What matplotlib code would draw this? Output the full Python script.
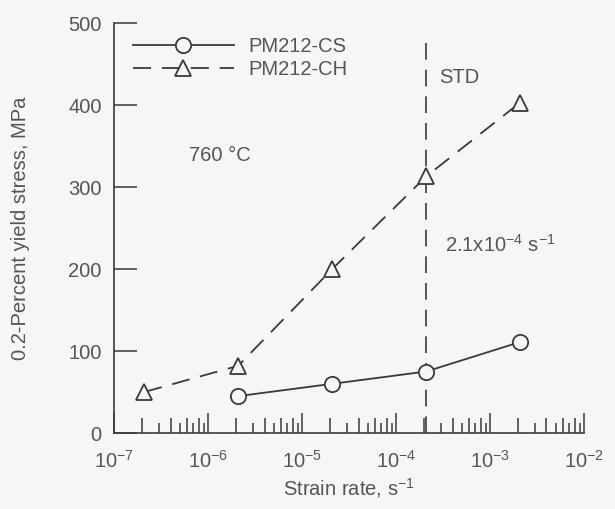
import matplotlib
matplotlib.use("Agg")
import matplotlib.pyplot as plt

# strain rate, 1/s and 0.2% yield stress, MPa
rate_cs = [2.1e-6, 2.1e-5, 2.1e-4, 2.1e-3]
stress_cs = [45, 60, 75, 111]
rate_ch = [2.1e-7, 2.1e-6, 2.1e-5, 2.1e-4, 2.1e-3]
stress_ch = [50, 82, 200, 313, 403]
std_rate = 2.1e-4

decades = [1e-7, 1e-6, 1e-5, 1e-4, 1e-3, 1e-2]
yticks = [0, 100, 200, 300, 400, 500]

bg = "#f6f6f6"
ink = "#3a3a3a"
txt = "#555555"
fs = 14.5

plt.rcParams["font.family"] = ["Liberation Sans", "DejaVu Sans"]
plt.rcParams["mathtext.default"] = "regular"

fig = plt.figure(figsize=(6.15, 5.09), dpi=100, facecolor=bg)
ax = fig.add_axes([0.1854, 0.1493, 0.764, 0.8055], facecolor=bg)

ax.plot(rate_cs, stress_cs, color=ink, lw=1.3, marker="o", ms=11,
        mfc=bg, mec=ink, mew=1.3, label="PM212-CS", zorder=3)
ax.plot(rate_ch, stress_ch, color=ink, lw=1.3, marker="^", ms=11.5,
        mfc=bg, mec=ink, mew=1.3, dashes=(10, 6), label="PM212-CH", zorder=3)
ax.vlines(std_rate, 0, 480, color=ink, lw=1.2, linestyles=(0, (10, 6)), zorder=2)

ax.set_xscale("log")
ax.set_xlim(decades[0], decades[-1])
ax.set_ylim(0, 500)
ax.set_xticks(decades)
ax.set_xticks([m * d for d in decades[:-1] for m in (2, 4, 6, 8)], minor=True)
ax.set_yticks(yticks)

for s in ("top", "right"):
    ax.spines[s].set_visible(False)
for s in ("left", "bottom"):
    ax.spines[s].set_color(ink)
    ax.spines[s].set_linewidth(1.2)

ax.tick_params(axis="x", which="major", direction="in", length=14.5, width=1.1,
               color=ink, labelcolor=txt, labelsize=fs, pad=12)
ax.tick_params(axis="x", which="minor", direction="in", length=10.5, width=1.1,
               color=ink)
ax.tick_params(axis="y", which="major", direction="in", length=16.5, width=1.1,
               color=ink, labelcolor=txt, labelsize=fs, pad=9)
ax.tick_params(axis="y", which="minor", left=False)

# shorter ticks at 3, 5, 7, 9 of each decade
ax2 = ax.twiny()
ax2.set_xscale("log")
ax2.set_xlim(ax.get_xlim())
ax2.set_xticks([])
ax2.set_xticks([m * d for d in decades[:-1] for m in (3, 5, 7, 9)], minor=True)
ax2.xaxis.set_ticks_position("bottom")
ax2.tick_params(axis="x", which="minor", direction="in", length=7.2, width=1.1,
                color=ink, labelbottom=False, labeltop=False)
for s in ax2.spines.values():
    s.set_visible(False)

ax.set_xlabel("Strain rate, s$^{-1}$", color=txt, fontsize=fs)
ax.xaxis.set_label_coords(0.5, -0.105)
ax.set_ylabel("0.2-Percent yield stress, MPa", color=txt, fontsize=fs)
ax.yaxis.set_label_coords(-0.178, 0.5)

ax.text(1.35e-6, 338, "760 °C", color=txt, fontsize=fs, ha="center", va="center")
ax.text(2.9e-4, 433, "STD", color=txt, fontsize=fs, ha="left", va="center")
ax.text(3.3e-4, 230, "2.1x10$^{-4}$ s$^{-1}$", color=txt, fontsize=fs,
        ha="left", va="center")

leg = ax.legend(loc="upper left", bbox_to_anchor=(0.04, 0.965), frameon=False,
                handlelength=5.0, handletextpad=0.75, labelspacing=0.2,
                borderaxespad=0, borderpad=0, numpoints=1, fontsize=fs)
for t in leg.get_texts():
    t.set_color(txt)

fig.savefig("out.png", dpi=100, facecolor=bg)
